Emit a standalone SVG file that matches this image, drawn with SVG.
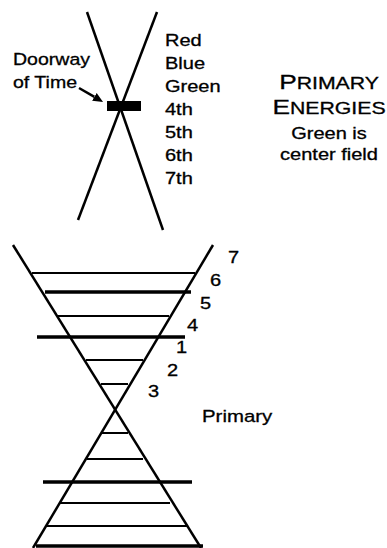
<svg xmlns="http://www.w3.org/2000/svg" width="387" height="548" viewBox="0 0 387 548">
<defs>
<style>
.ln{stroke:#000;stroke-width:2.5;fill:none}
.h{stroke:#000;stroke-width:2}
.hb{stroke:#000;stroke-width:3.5}
text{font-family:"Liberation Sans",Arial,sans-serif;fill:#000;stroke:#000;stroke-width:0.3}
</style>
<marker id="ah" viewBox="0 0 10 9" refX="0" refY="4.5" markerWidth="10" markerHeight="9" markerUnits="userSpaceOnUse" orient="auto"><path d="M0,0 L10,4.5 L0,9 Z" fill="#000"/></marker>
</defs>
<rect width="387" height="548" fill="#fff"/>

<g id="doorway-hourglass">
<line class="ln" x1="87" y1="12" x2="163" y2="230"/>
<line class="ln" x1="157" y1="12" x2="78" y2="220"/>
<rect x="107" y="101" width="34" height="10" fill="#000"/>
</g>

<g id="doorway-label" transform="translate(13 0) scale(1.15 1)">
<text x="0" y="65" font-size="17">Doorway</text>
<text x="0" y="88" font-size="17">of Time</text>
</g>

<g id="connectors">
<line x1="79" y1="88" x2="94.4" y2="96.9" stroke="#000" stroke-width="2.5" marker-end="url(#ah)"/>
</g>

<g id="energy-list" transform="translate(165 0) scale(1.25 1)" font-size="16">
<text x="0" y="46">Red</text>
<text x="0" y="69">Blue</text>
<text x="0" y="92">Green</text>
<text x="0" y="115">4th</text>
<text x="0" y="138">5th</text>
<text x="0" y="161">6th</text>
<text x="0" y="184">7th</text>
</g>

<g id="primary-energies-title" transform="translate(329 0) scale(1.25 1)" text-anchor="middle">
<text x="0" y="89" font-size="17"><tspan font-size="21">P</tspan>RIMARY</text>
<text x="0" y="114" font-size="17"><tspan font-size="21">E</tspan>NERGIES</text>
<text x="0" y="139" font-size="16">Green is</text>
<text x="0" y="160" font-size="16">center field</text>
</g>

<g id="primary-hourglass">
<line class="ln" x1="13" y1="245" x2="201" y2="548"/>
<line class="ln" x1="213" y1="245" x2="33" y2="548"/>
<line class="h" x1="32" y1="273" x2="195" y2="273"/>
<line class="hb" x1="45" y1="292" x2="191" y2="292"/>
<line class="h" x1="58" y1="316" x2="169" y2="316"/>
<line class="hb" x1="37" y1="337" x2="185" y2="337"/>
<line class="h" x1="86" y1="360" x2="143" y2="360"/>
<line class="h" x1="101" y1="384" x2="128" y2="384"/>
<line class="h" x1="102" y1="433" x2="128" y2="433"/>
<line class="h" x1="87" y1="459" x2="143" y2="459"/>
<line class="hb" x1="43" y1="482" x2="192" y2="482"/>
<line class="h" x1="60" y1="503" x2="170" y2="503"/>
<line class="h" x1="46" y1="526" x2="188" y2="526"/>
<line class="hb" x1="36" y1="546" x2="203" y2="546"/>
</g>

<g id="level-numbers" font-size="16">
<text transform="translate(228 263) scale(1.25 1)">7</text>
<text transform="translate(210 286) scale(1.25 1)">6</text>
<text transform="translate(200 309) scale(1.25 1)">5</text>
<text transform="translate(187 331) scale(1.25 1)">4</text>
<text transform="translate(176 353) scale(1.25 1)">1</text>
<text transform="translate(167 376) scale(1.25 1)">2</text>
<text transform="translate(148 397) scale(1.25 1)">3</text>
</g>

<g id="primary-label">
<text transform="translate(202 422) scale(1.2 1)" font-size="17">Primary</text>
</g>
</svg>
